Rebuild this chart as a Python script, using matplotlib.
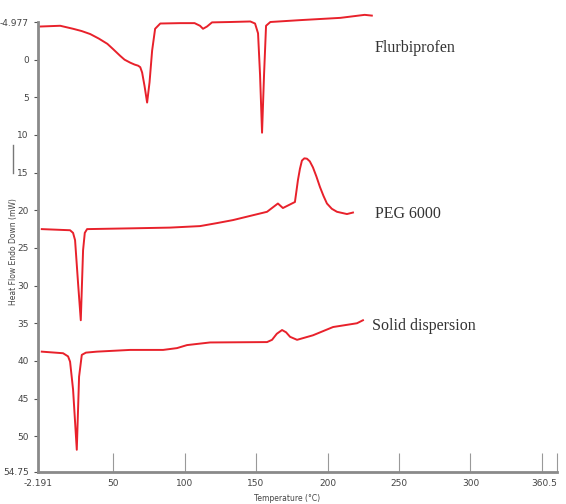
import matplotlib
matplotlib.use("Agg")
import matplotlib.pyplot as plt
from matplotlib.lines import Line2D

# DSC thermograms (temperature in C, heat flow in mW, endo down)
flurbi_t = [-1, 13, 22, 28, 34, 40, 46, 50, 55, 58, 62, 65, 67.5, 69, 70.3, 72, 73.8,
            75.5, 77.3, 79.4, 83, 97, 107, 110.8, 112.9, 115.7, 119.2, 132, 146, 149.3,
            151.4, 152.8, 154.2, 155.6, 157, 160, 181, 209, 226, 231]
flurbi_y = [-4.4, -4.5, -4.1, -3.8, -3.4, -2.8, -2.1, -1.4, -0.5, 0.0, 0.4, 0.65, 0.8, 1.0,
            1.7, 3.5, 5.7, 3.0, -1.2, -4.1, -4.8, -4.85, -4.85, -4.5, -4.1, -4.4, -4.95,
            -5.0, -5.07, -4.8, -3.5, 2.0, 9.7, 2.0, -4.5, -5.0, -5.25, -5.55, -5.95, -5.85]

peg_t = [0.1, 19.9, 22.0, 23.4, 25.5, 27.4, 29.0, 30.2, 31.8, 61.9, 89.8, 110.8, 122.7,
         133.9, 157.7, 165.3, 168.8, 177.2, 178.3, 179.3, 180.7, 182.1, 183.8, 185.6,
         187.6, 189.8, 192.2, 194.7, 197.2, 199.6, 203, 206.6, 213.6, 217.8]
peg_y = [22.5, 22.65, 23.0, 23.97, 29.7, 34.6, 25.3, 23.0, 22.5, 22.4, 22.3, 22.1, 21.7,
         21.3, 20.2, 19.1, 19.7, 18.9, 17.4, 16.0, 14.5, 13.4, 13.1, 13.15, 13.5, 14.3,
         15.5, 16.9, 18.1, 19.1, 19.8, 20.2, 20.5, 20.3]

sd_t = [0.1, 15.0, 18.5, 19.9, 22.0, 24.6, 26.2, 28.1, 31, 38.6, 61.9, 85.0, 94.7, 101.7,
        117.8, 157.7, 161.2, 164.5, 168.2, 171, 173.8, 178.7, 189.8, 203.9, 220.6, 224.8]
sd_y = [38.77, 38.98, 39.4, 40.1, 43.8, 51.8, 42.1, 39.2, 38.9, 38.77, 38.54, 38.54, 38.3,
        37.9, 37.55, 37.5, 37.2, 36.4, 35.9, 36.2, 36.8, 37.2, 36.6, 35.5, 35.0, 34.6]

x_ticks = [-2.191, 50, 100, 150, 200, 250, 300, 350, 360.5]
x_labels = ['-2.191', '50', '100', '150', '200', '250', '300', '', '360.5']
y_ticks = [-4.977, 0, 5, 10, 15, 20, 25, 30, 35, 40, 45, 50, 54.75]
y_labels = ['-4.977', '0', '5', '10', '15', '20', '25', '30', '35', '40', '45', '50', '54.75']

names = ['Flurbiprofen', 'PEG 6000', 'Solid dispersion']
name_pos = [(233, -1.6), (233, 20.5), (231, 35.4)]

fig = plt.figure(figsize=(5.66, 5.04), dpi=100)
ax = fig.add_axes([0.068, 0.0635, 0.916, 0.8925])

red = '#e8212b'
for t, y in [(flurbi_t, flurbi_y), (peg_t, peg_y), (sd_t, sd_y)]:
    ax.plot(t, y, color=red, lw=1.4, clip_on=False)

ax.set_xlim(-2.191, 360.5)
ax.set_ylim(54.75, -4.977)

ax.set_xticks(x_ticks)
ax.set_xticklabels(x_labels)
ax.set_yticks(y_ticks)
ax.set_yticklabels(y_labels)
# keep the last x label inside the figure
ax.get_xticklabels()[-1].set_horizontalalignment('right')

ax.spines['top'].set_visible(False)
ax.spines['right'].set_visible(False)
for s in ['left', 'bottom']:
    ax.spines[s].set_color('#8a8a8a')
    ax.spines[s].set_linewidth(2)

ax.tick_params(axis='x', direction='in', length=14, width=0.8, color='#999999',
               labelsize=6.5, labelcolor='#444444', pad=5)
ax.tick_params(axis='y', direction='out', length=3, width=0.8, color='#555555',
               labelsize=6.5, labelcolor='#444444', pad=4)

# sample names, serif like the original
for n, (tx, ty) in zip(names, name_pos):
    ax.text(tx, ty, n, family='Liberation Serif', fontsize=11.5, color='#333333',
            va='center', ha='left')

fig.text(0.023, 0.5, 'Heat Flow Endo Down (mW)', rotation=90, fontsize=5.5,
         color='#444444', ha='center', va='center')
fig.add_artist(Line2D([0.023, 0.023], [0.657, 0.712], color='#777777', lw=1))
fig.text(0.507, 0.002, 'Temperature (\u00b0C)', fontsize=5.5, color='#444444',
         ha='center', va='bottom')

fig.savefig('out.png', dpi=100)
